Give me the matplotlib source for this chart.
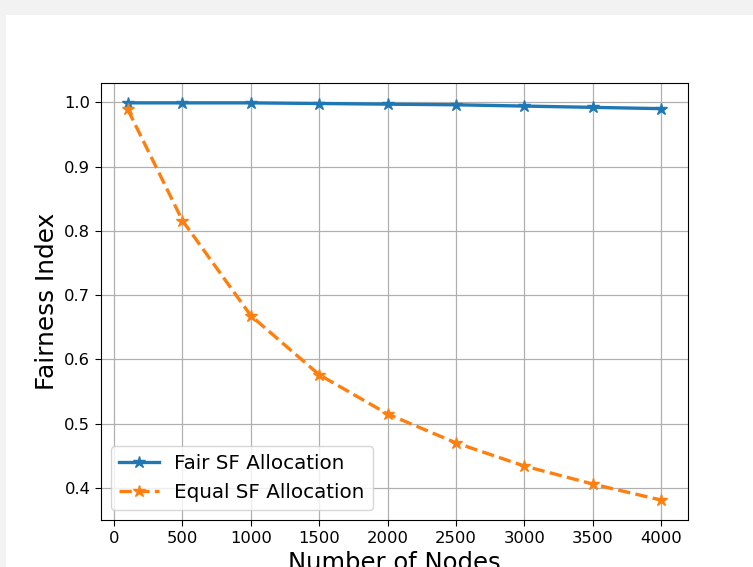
import numpy as np
import matplotlib
matplotlib.use('Agg')
import matplotlib.pyplot as plt
from matplotlib.patches import Rectangle

# data
nodes = [100, 500, 1000, 1500, 2000, 2500, 3000, 3500, 4000]
fair_sf = [0.999, 0.999, 0.999, 0.998, 0.997, 0.996, 0.994, 0.992, 0.990]
equal_sf = [0.989, 0.816, 0.668, 0.576, 0.515, 0.470, 0.434, 0.406, 0.381]

W, H = 753, 567
fig = plt.figure(figsize=(W / 100, H / 100), dpi=100, facecolor='#f2f2f2')
# white page area of the screenshot
fig.patches.append(Rectangle((6 / W, 0), 1, 1 - 15 / H, transform=fig.transFigure,
                             facecolor='white', edgecolor='none', zorder=-10))

ax = fig.add_axes([101 / W, 1 - 520 / H, 587 / W, 437 / H])
ax.plot(nodes, fair_sf, '-*', color='#1f77b4', lw=2.4, ms=9, label='Fair SF Allocation')
ax.plot(nodes, equal_sf, '--*', color='#ff7f0e', lw=2.4, ms=9, label='Equal SF Allocation')

ax.grid(True, color='#b0b0b0', lw=0.9)
ax.tick_params(labelsize=11.8, length=4.2)
ax.set_xticks(np.arange(0, 4001, 500))
ax.set_xlabel('Number of Nodes', fontsize=17.5)
ax.set_ylabel('Fairness Index', fontsize=17.8)
ax.legend(loc='lower left', fontsize=14.3)

fig.savefig('out.png', dpi=100, facecolor=fig.get_facecolor())
